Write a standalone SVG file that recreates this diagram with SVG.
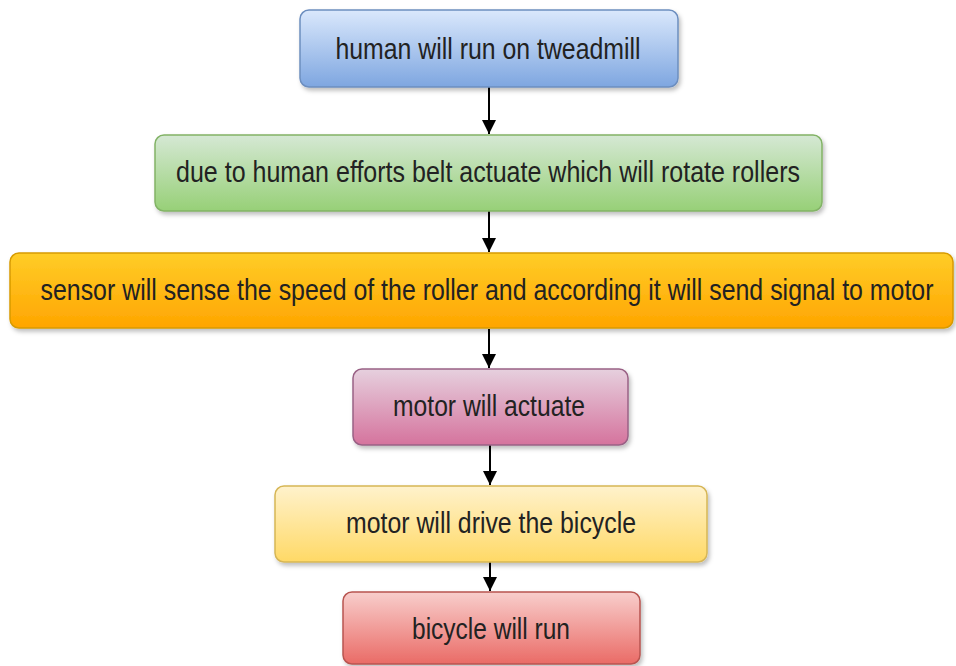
<svg xmlns="http://www.w3.org/2000/svg" width="956" height="666" viewBox="0 0 956 666">
<style>
.box{stroke-width:1.5}
.lbl{font-family:"Liberation Sans",Arial,sans-serif;font-size:29px;fill:#222;text-anchor:middle}
.edge{stroke:#000;stroke-width:2;fill:none}
</style>
<defs>
<filter id="sh" x="-5%" y="-10%" width="110%" height="130%"><feDropShadow dx="2" dy="3" stdDeviation="2" flood-color="#000" flood-opacity="0.25"/></filter>
<linearGradient id="gBlue" x1="0" y1="0" x2="0" y2="1"><stop offset="0" stop-color="#dae8fc"/><stop offset="1" stop-color="#7ea6e0"/></linearGradient>
<linearGradient id="gGreen" x1="0" y1="0" x2="0" y2="1"><stop offset="0" stop-color="#d5e8d4"/><stop offset="1" stop-color="#97d077"/></linearGradient>
<linearGradient id="gOrange" x1="0" y1="0" x2="0" y2="1"><stop offset="0" stop-color="#ffcd28"/><stop offset="1" stop-color="#ffa500"/></linearGradient>
<linearGradient id="gPink" x1="0" y1="0" x2="0" y2="1"><stop offset="0" stop-color="#e6d0de"/><stop offset="1" stop-color="#d5739d"/></linearGradient>
<linearGradient id="gYellow" x1="0" y1="0" x2="0" y2="1"><stop offset="0" stop-color="#fff2cc"/><stop offset="1" stop-color="#ffd966"/></linearGradient>
<linearGradient id="gRed" x1="0" y1="0" x2="0" y2="1"><stop offset="0" stop-color="#f8cecc"/><stop offset="1" stop-color="#ea6b66"/></linearGradient>
<marker id="arr" viewBox="0 0 10 10" refX="10" refY="5" markerWidth="7" markerHeight="7" markerUnits="strokeWidth" orient="auto"><path d="M0,0 L10,5 L0,10 z" fill="#000"/></marker>
</defs>
<rect width="956" height="666" fill="#fff"/>
<g id="connectors">
<line class="edge" x1="489" y1="87" x2="489" y2="134" marker-end="url(#arr)"/>
<line class="edge" x1="489" y1="211" x2="489" y2="252" marker-end="url(#arr)"/>
<line class="edge" x1="489" y1="329" x2="489" y2="368" marker-end="url(#arr)"/>
<line class="edge" x1="490" y1="445" x2="490" y2="485" marker-end="url(#arr)"/>
<line class="edge" x1="490" y1="562" x2="490" y2="591" marker-end="url(#arr)"/>
</g>
<g id="n1">
<rect class="box" x="300" y="10" width="378" height="77" rx="9" fill="url(#gBlue)" stroke="#6c8ebf" filter="url(#sh)"/>
<text class="lbl" x="488" y="59" textLength="305" lengthAdjust="spacingAndGlyphs">human will run on tweadmill</text>
</g>
<g id="n2">
<rect class="box" x="155" y="135" width="667" height="76" rx="9" fill="url(#gGreen)" stroke="#82b366" filter="url(#sh)"/>
<text class="lbl" x="488" y="182" textLength="624" lengthAdjust="spacingAndGlyphs">due to human efforts belt actuate which will rotate rollers</text>
</g>
<g id="n3">
<rect class="box" x="10" y="253" width="943" height="75" rx="9" fill="url(#gOrange)" stroke="#d79b00" filter="url(#sh)"/>
<text class="lbl" style="font-size:22px" transform="translate(487,300) scale(1,1.3)" x="0" y="0" textLength="893" lengthAdjust="spacingAndGlyphs">sensor will sense the speed of the roller and according it will send signal to motor</text>
</g>
<g id="n4">
<rect class="box" x="353" y="369" width="275" height="76" rx="9" fill="url(#gPink)" stroke="#996185" filter="url(#sh)"/>
<text class="lbl" x="489" y="416" textLength="192" lengthAdjust="spacingAndGlyphs">motor will actuate</text>
</g>
<g id="n5">
<rect class="box" x="275" y="486" width="432" height="76" rx="9" fill="url(#gYellow)" stroke="#d6b656" filter="url(#sh)"/>
<text class="lbl" x="491" y="533" textLength="290" lengthAdjust="spacingAndGlyphs">motor will drive the bicycle</text>
</g>
<g id="n6">
<rect class="box" x="343" y="592" width="297" height="72" rx="9" fill="url(#gRed)" stroke="#b85450" filter="url(#sh)"/>
<text class="lbl" x="491" y="639" textLength="158" lengthAdjust="spacingAndGlyphs">bicycle will run</text>
</g>
</svg>
